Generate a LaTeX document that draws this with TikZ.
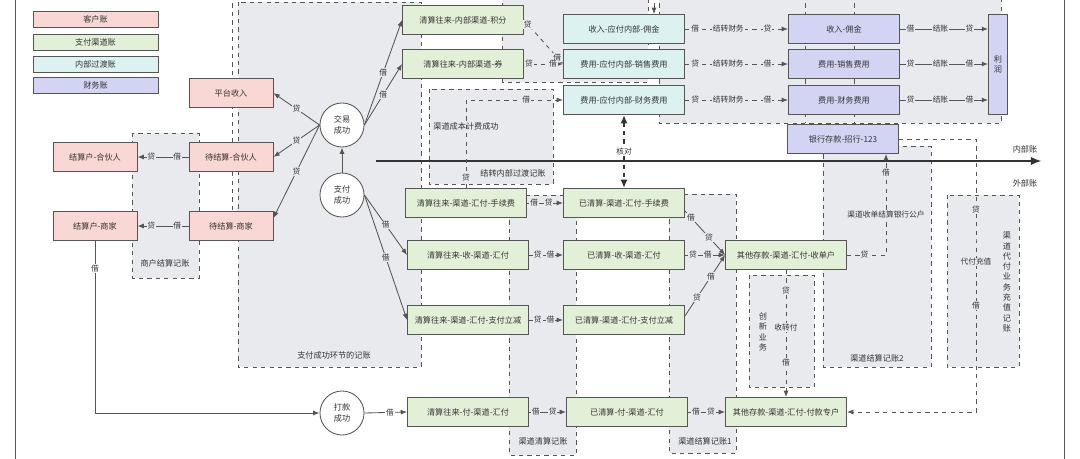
\documentclass[tikz,border=0pt]{standalone}
\usepackage{fontspec}
\newfontfamily\cjk{Noto Sans CJK SC}
\usetikzlibrary{arrows.meta}
\definecolor{custfill}{HTML}{F8D7D4}
\definecolor{payfill}{HTML}{E3F0D8}
\definecolor{innerfill}{HTML}{DCF2F1}
\definecolor{finfill}{HTML}{D3D4F4}
\definecolor{grpfill}{HTML}{E8EAED}
\definecolor{edgegray}{HTML}{555555}
\definecolor{txtgray}{HTML}{333333}
\tikzset{
  box/.style={draw=edgegray, line width=0.6pt, inner sep=0pt, minimum height=0.725cm, text=txtgray, font=\cjk\fontsize{5.8}{7}\selectfont},
  cust/.style={box, fill=custfill, minimum width=2.1cm},
  pay/.style={box, fill=payfill, minimum width=3.025cm},
  inner/.style={box, fill=innerfill, minimum width=3.025cm},
  fin/.style={box, fill=finfill, minimum width=2.775cm},
  legend/.style={box, minimum width=3.125cm, minimum height=0.4cm},
  event/.style={circle, draw=edgegray, line width=0.6pt, fill=white, minimum size=1.1cm, inner sep=0pt, align=center, text=txtgray, font=\cjk\fontsize{5.8}{7.5}\selectfont},
  grp/.style={draw=edgegray, dashed, fill=grpfill, line width=0.6pt},
  grpline/.style={draw=edgegray, dashed, line width=0.6pt},
  grplabel/.style={text=txtgray, font=\cjk\fontsize{5.8}{7.3}\selectfont, align=center},
  arr/.style={draw=edgegray, line width=0.6pt, -{Latex[length=4.5pt,width=3.5pt]}},
  darr/.style={arr, dashed},
  lbl/.style={fill=grpfill, inner sep=0.6pt, text=txtgray, font=\cjk\fontsize{5.5}{6.5}\selectfont},
  lblw/.style={lbl, fill=white},
  lblt/.style={lbl, fill=none, font=\cjk\fontsize{5.8}{7}\selectfont},
}

\begin{document}
\begin{tikzpicture}[x=0.025cm, y=-0.025cm]
	\useasboundingbox (0,0) rectangle (1080,459);
	\fill[white] (0,0) rectangle (1080,459);
	\draw[edgegray, line width=0.6pt] (15,0) -- (15,459);
	\draw[edgegray, line width=0.6pt] (1064,0) -- (1064,459);
	
	% groups
	\draw[grpline] (232,-5) -- (232,211);
	\draw[grp] (238,2) rectangle (421,367);
	\node[grplabel] at (334,355) {支付成功环节的记账};
	\draw[grp] (132,133) rectangle (199,278);
	\node[grplabel] at (165,263) {商户结算记账};
	\draw[grp] (502,-5) rectangle (648,82);
	\draw[grp] (659,-5) rectangle (1001,123);
	\draw[grpline] (805,-5) -- (805,123);
	\draw[grpline] (854,-5) -- (854,123);
	\draw[grp] (429,89) rectangle (553,184);
	\node[grplabel] at (513,173) {结转内部过渡记账};
	\draw[grp] (509,195) rectangle (576,455);
	\node[grplabel] at (543,441) {渠道清算记账};
	\draw[grp] (669,194) rectangle (736,453);
	\node[grplabel] at (705,441) {渠道结算记账1};
	\draw[grp] (749,275) rectangle (814,387);
	\node[grplabel] at (763,332) {创\\新\\业\\务};
	\draw[grp] (823,146) rectangle (931,367);
	\node[grplabel] at (877,358) {渠道结算记账2};
	\draw[grp] (947,195) rectangle (1019,367);
	\node[grplabel] at (1007,282) {渠\\道\\代\\付\\业\\务\\充\\值\\记\\账};
	
	% axis
	\draw[line width=2pt, draw=txtgray, -{Latex[length=8pt,width=6pt]}] (376,161) -- (1042,161);
	\node[grplabel] at (1025,149) {内部账};
	\node[grplabel] at (1025,183) {外部账};
	
	% legend
	\node[legend, fill=custfill] (lgcust) at (95.5,19.5) {客户账};
	\node[legend, fill=payfill] (lgpay) at (95.5,42) {支付渠道账};
	\node[legend, fill=innerfill] (lginner) at (95.5,64) {内部过渡账};
	\node[legend, fill=finfill] (lgfin) at (95.5,85) {财务账};
	
	% customer accounts
	\node[cust] (ptsr) at (231,93) {平台收入};
	\node[cust] (djshhr) at (231,157) {待结算-合伙人};
	\node[cust] (jshhhr) at (95,157) {结算户-合伙人};
	\node[cust] (djssj) at (231,226) {待结算-商家};
	\node[cust] (jshsj) at (95,226) {结算户-商家};
	
	\node[event] (jycg) at (342,125) {交易\\成功};
	\node[event] (zfcg) at (342,195) {支付\\成功};
	\node[event] (dkcg) at (342,413) {打款\\成功};
	
	% channel accounts
	\node[pay] (qsjf) at (463,20) {清算往来-内部渠道-积分};
	\node[pay] (qsq) at (463,64) {清算往来-内部渠道-券};
	\node[pay] (qssxf) at (466,203) {清算往来-渠道-汇付-手续费};
	\node[pay] (qss) at (468,255) {清算往来-收-渠道-汇付};
	\node[pay] (qslj) at (468,320) {清算往来-渠道-汇付-支付立减};
	\node[pay] (qsf) at (468,412) {清算往来-付-渠道-汇付};
	\node[pay] (yqsxf) at (624,203) {已清算-渠道-汇付-手续费};
	\node[pay] (yqs) at (624,255) {已清算-收-渠道-汇付};
	\node[pay] (yqlj) at (624,320) {已清算-渠道-汇付-支付立减};
	\node[pay] (yqf) at (627,412) {已清算-付-渠道-汇付};
	\node[pay] (qtsdh) at (786,255) {其他存款-渠道-汇付-收单户};
	\node[pay] (qtfkzh) at (786,412) {其他存款-渠道-汇付-付款专户};
	
	% internal and finance accounts
	\node[inner] (nbyj) at (624,29) {收入-应付内部-佣金};
	\node[inner] (nbxs) at (624,64) {费用-应付内部-销售费用};
	\node[inner] (nbcw) at (624,100) {费用-应付内部-财务费用};
	\node[fin] (cwyj) at (844,29) {收入-佣金};
	\node[fin] (cwxs) at (844,64) {费用-销售费用};
	\node[fin] (cwcw) at (844,100) {费用-财务费用};
	\node[fin] (yhck) at (843,139) {银行存款-招行-123};
	\node[fin, minimum width=0.475cm, minimum height=2.5cm, align=center] (lr) at (998,64) {利\\润};
	
	% connectors
	\draw[arr] (zfcg) -- (jycg);
	\draw[arr] (jycg.west) -- node[lbl]{贷} (ptsr.east);
	\draw[arr] (jycg.west) -- node[lbl]{贷} (djshhr.east);
	\draw[arr] (jycg.west) -- node[lbl]{贷} ([yshift=0.2cm]djssj.east);
	\draw[arr] (jycg.east) -- node[lbl]{借} (qsjf.west);
	\draw[arr] (jycg.east) -- node[lbl]{借} (qsq.west);
	\draw[arr] (zfcg.east) -- node[lbl]{借} (qss.west);
	\draw[arr] (zfcg.east) -- node[lbl]{借} (qslj.west);
	\draw[arr] (djshhr) -- node[lbl,pos=0.22]{借} node[lbl,pos=0.73]{贷} (jshhhr);
	\draw[arr] (djssj) -- node[lbl,pos=0.22]{借} node[lbl,pos=0.73]{贷} (jshsj);
	\draw[arr] (jshsj.south) |- node[lblw,pos=0.08]{借} (dkcg.west);
	\draw[arr] (dkcg.east) -- node[lblw,pos=0.6]{借} (qsf.west);
	
	\draw[darr] (qsjf.east) -- node[lbl,pos=0.1]{贷} node[lbl,pos=0.85]{借} (nbxs.west);
	\draw[darr] (qsq) -- node[lbl,pos=0.13]{贷} node[lbl,pos=0.74]{借} (nbxs);
	\draw[darr] (qssxf.north) |- node[lbl,pos=0.0625]{贷} node[lblt,pos=0.35]{渠道成本计费成功} node[lbl,pos=0.81]{借} (nbcw.west);
	\draw[dashed, draw=txtgray, line width=1.4pt, {Latex[length=6pt,width=5pt]}-{Latex[length=6pt,width=5pt]}] (nbcw.south) -- node[lblw]{核对} (yqsxf.north);
	\coordinate (yjin) at (654,-5);
	\draw[darr] (yjin) -- (yjin |- nbyj.north);
	
	\draw[darr] (nbyj) -- node[lbl,pos=0.1]{借} node[lbl,pos=0.42]{结转财务} node[lbl,pos=0.8]{贷} (cwyj);
	\draw[darr] (nbxs) -- node[lbl,pos=0.1]{贷} node[lbl,pos=0.42]{结转财务} node[lbl,pos=0.8]{借} (cwxs);
	\draw[darr] (nbcw) -- node[lbl,pos=0.1]{贷} node[lbl,pos=0.42]{结转财务} node[lbl,pos=0.8]{借} (cwcw);
	\draw[arr] (cwyj.east) -- node[lbl,pos=0.12]{借} node[lbl,pos=0.46]{结账} node[lbl,pos=0.79]{贷} (cwyj.east -| lr.west);
	\draw[arr] (cwxs.east) -- node[lbl,pos=0.12]{贷} node[lbl,pos=0.46]{结账} node[lbl,pos=0.79]{借} (cwxs.east -| lr.west);
	\draw[arr] (cwcw.east) -- node[lbl,pos=0.12]{贷} node[lbl,pos=0.46]{结账} node[lbl,pos=0.79]{借} (cwcw.east -| lr.west);
	
	\draw[arr] (qssxf) -- node[lbl,pos=0.2]{借} node[lbl,pos=0.6]{贷} (yqsxf);
	\draw[arr] (qss) -- node[lbl,pos=0.26]{贷} node[lbl,pos=0.63]{借} (yqs);
	\draw[arr] (qslj) -- node[lbl,pos=0.26]{贷} node[lbl,pos=0.63]{借} (yqlj);
	\draw[arr] (qsf) -- node[lbl,pos=0.18]{借} node[lbl,pos=0.64]{贷} (yqf);
	
	\draw[arr] ([yshift=-0.2cm]yqsxf.east) -- node[lbl,pos=0.15]{借} node[lbl,pos=0.6]{贷} (qtsdh.west);
	\draw[arr] (yqs) -- node[lbl,pos=0.2]{贷} node[lbl,pos=0.57]{借} (qtsdh);
	\draw[arr] ([yshift=0.1cm]yqlj.east) -- node[lbl,pos=0.3]{贷} node[lbl,pos=0.65]{借} (qtsdh.west);
	\draw[arr] (yqf) -- node[lbl,pos=0.22]{借} node[lbl,pos=0.62]{贷} (qtfkzh);
	
	\draw[darr] (qtsdh) -- node[lbl,pos=0.16]{贷} node[lbl,pos=0.45]{收转付} node[lbl,pos=0.73]{借} (qtfkzh);
	\draw[darr] (qtsdh.east) -| node[lbl,pos=0.225]{贷} node[lbl,pos=0.7]{渠道收单结算银行公户} node[lbl,pos=0.91]{借} ([xshift=1.075cm]yhck.south);
	\coordinate (dfcz) at (976,240);
	\draw[darr] (yhck.east) -| node[lbl,pos=0.85]{贷} (dfcz) |- node[lbl,pos=0.064]{代付充值} node[lbl,pos=0.19]{借} (qtfkzh.east);
\end{tikzpicture}
\end{document}
